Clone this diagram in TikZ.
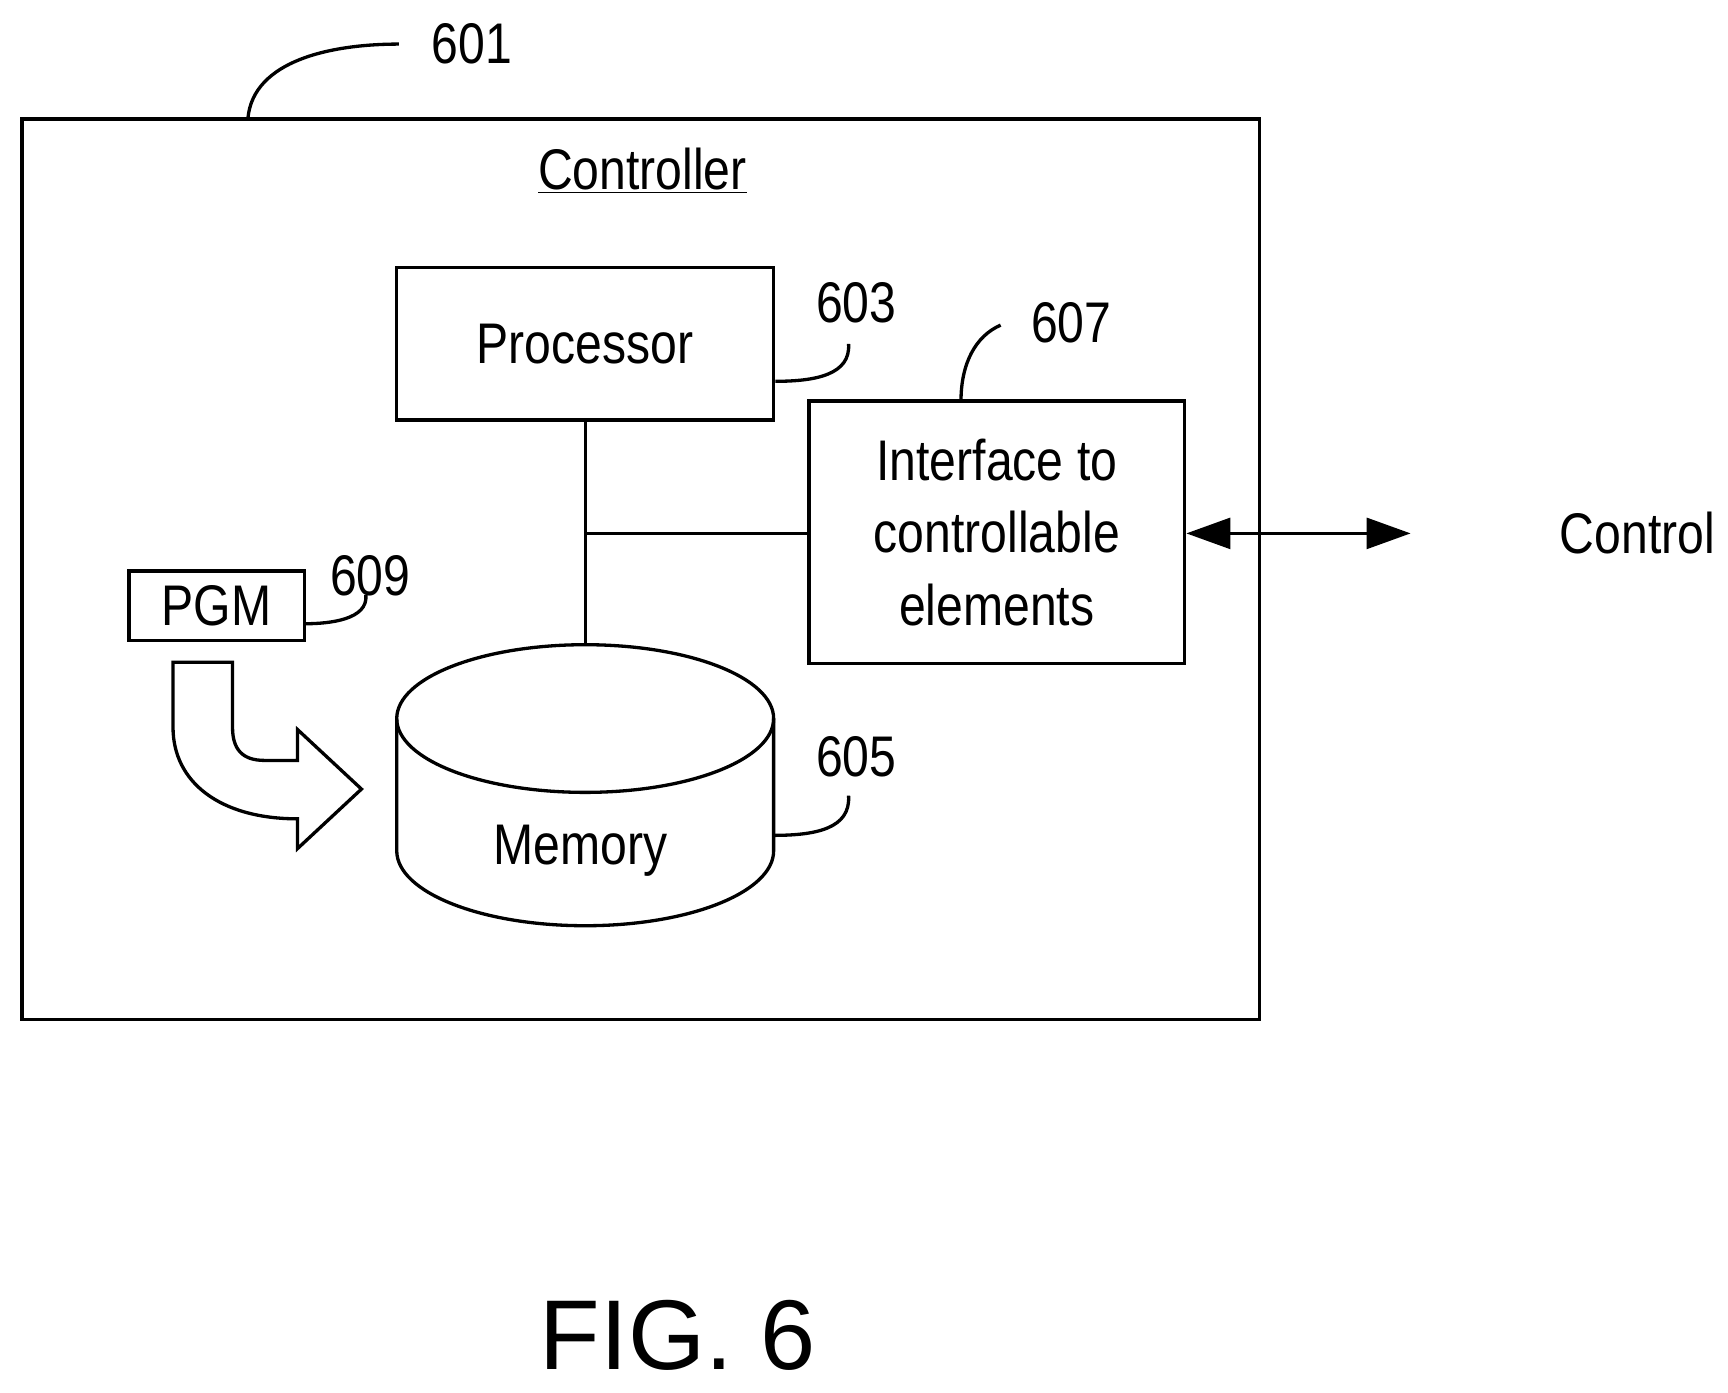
\documentclass[tikz,border=0pt]{standalone}
\usepackage{fontspec}
\setmainfont{Liberation Sans}[FakeStretch=0.84]
\newfontfamily\figfont{Liberation Sans}
\usetikzlibrary{arrows.meta,shapes.geometric}
\tikzset{
  box/.style={draw, line width=1.5pt, inner sep=0pt},
  lbl/.style={font=\fontsize{26}{30}\selectfont, inner sep=0pt},
  lead/.style={line width=1.5pt},
  wire/.style={line width=1.5pt}
}
\begin{document}
\begin{tikzpicture}[x=0.5pt, y=-0.5pt]
        \useasboundingbox (0,0) rectangle (1568,1264);
        % outer controller box
        \draw[box] (20,108) rectangle (1143,925);
        \node[lbl] (ctrl) at (583,155) {\underline{Controller}};
        \node[lbl] (n601) at (428,40) {601};
        \draw[lead] (225,107) .. controls (230,55) and (300,40) .. (362,40);
        % processor
        \node[box, minimum width=171pt, minimum height=69pt, lbl] (proc) at (531,312) {Processor};
        \node[lbl] (n603) at (777,275) {603};
        \draw[lead] (proc.east |- 0,346) .. controls (740,346) and (772,340) .. (770,312);
        % interface
        \node[box, minimum width=170.5pt, minimum height=119pt, lbl, align=center] (intf) at (904.5,483)
            {Interface to\\[3pt]controllable\\[3pt]elements};
        \node[lbl] (n607) at (972,293) {607};
        \draw[lead] (872,364) .. controls (872,330) and (885,305) .. (908,295);
        % memory cylinder
        \coordinate (memtop) at (531,585);
        \draw[wire, fill=white] (360,652) -- (360,772) arc[start angle=180, end angle=0, x radius=171, y radius=68]
            -- (702,652);
        \draw[wire] (531,652) ellipse[x radius=171, y radius=67];
        \node[lbl] (mem) at (527,772) {Memory};
        \node[lbl] (n605) at (777,687) {605};
        \draw[lead] (702,758) .. controls (740,758) and (772,752) .. (770,722);
        % bus
        \coordinate (bus) at (531,484);
        \draw[wire] (proc.south) -- (memtop);
        \draw[wire] (bus) -- (intf.west |- bus);
        % control arrow
        \coordinate (ctrlend) at (1280,484);
        \draw[wire, {Triangle[length=20pt,width=14pt]}-{Triangle[length=20pt,width=14pt]}] (intf.east |- bus) -- (ctrlend);
        \node[lbl, anchor=west] (control) at (1415,484) {Control};
        % program
        \node[box, minimum width=79.5pt, minimum height=31.5pt, lbl] (pgm) at (196.5,549.5) {PGM};
        \node[lbl] (n609) at (336,522) {609};
        \draw[lead] (276,566) .. controls (300,566) and (334,562) .. (332,540);
        % block arrow
        \draw[wire, line join=miter] (157,601) -- (157,660) .. controls (157,710) and (200,743) .. (270,743)
            -- (270,770) -- (328,716) -- (270,662) -- (270,690) -- (240,690)
            .. controls (220,690) and (211,680) .. (211,660) -- (211,601) -- cycle;
        % figure caption
        \node[font=\figfont\fontsize{45}{52}\selectfont, inner sep=0pt] (fig) at (615,1212) {FIG. 6};
    \end{tikzpicture}
\end{document}
